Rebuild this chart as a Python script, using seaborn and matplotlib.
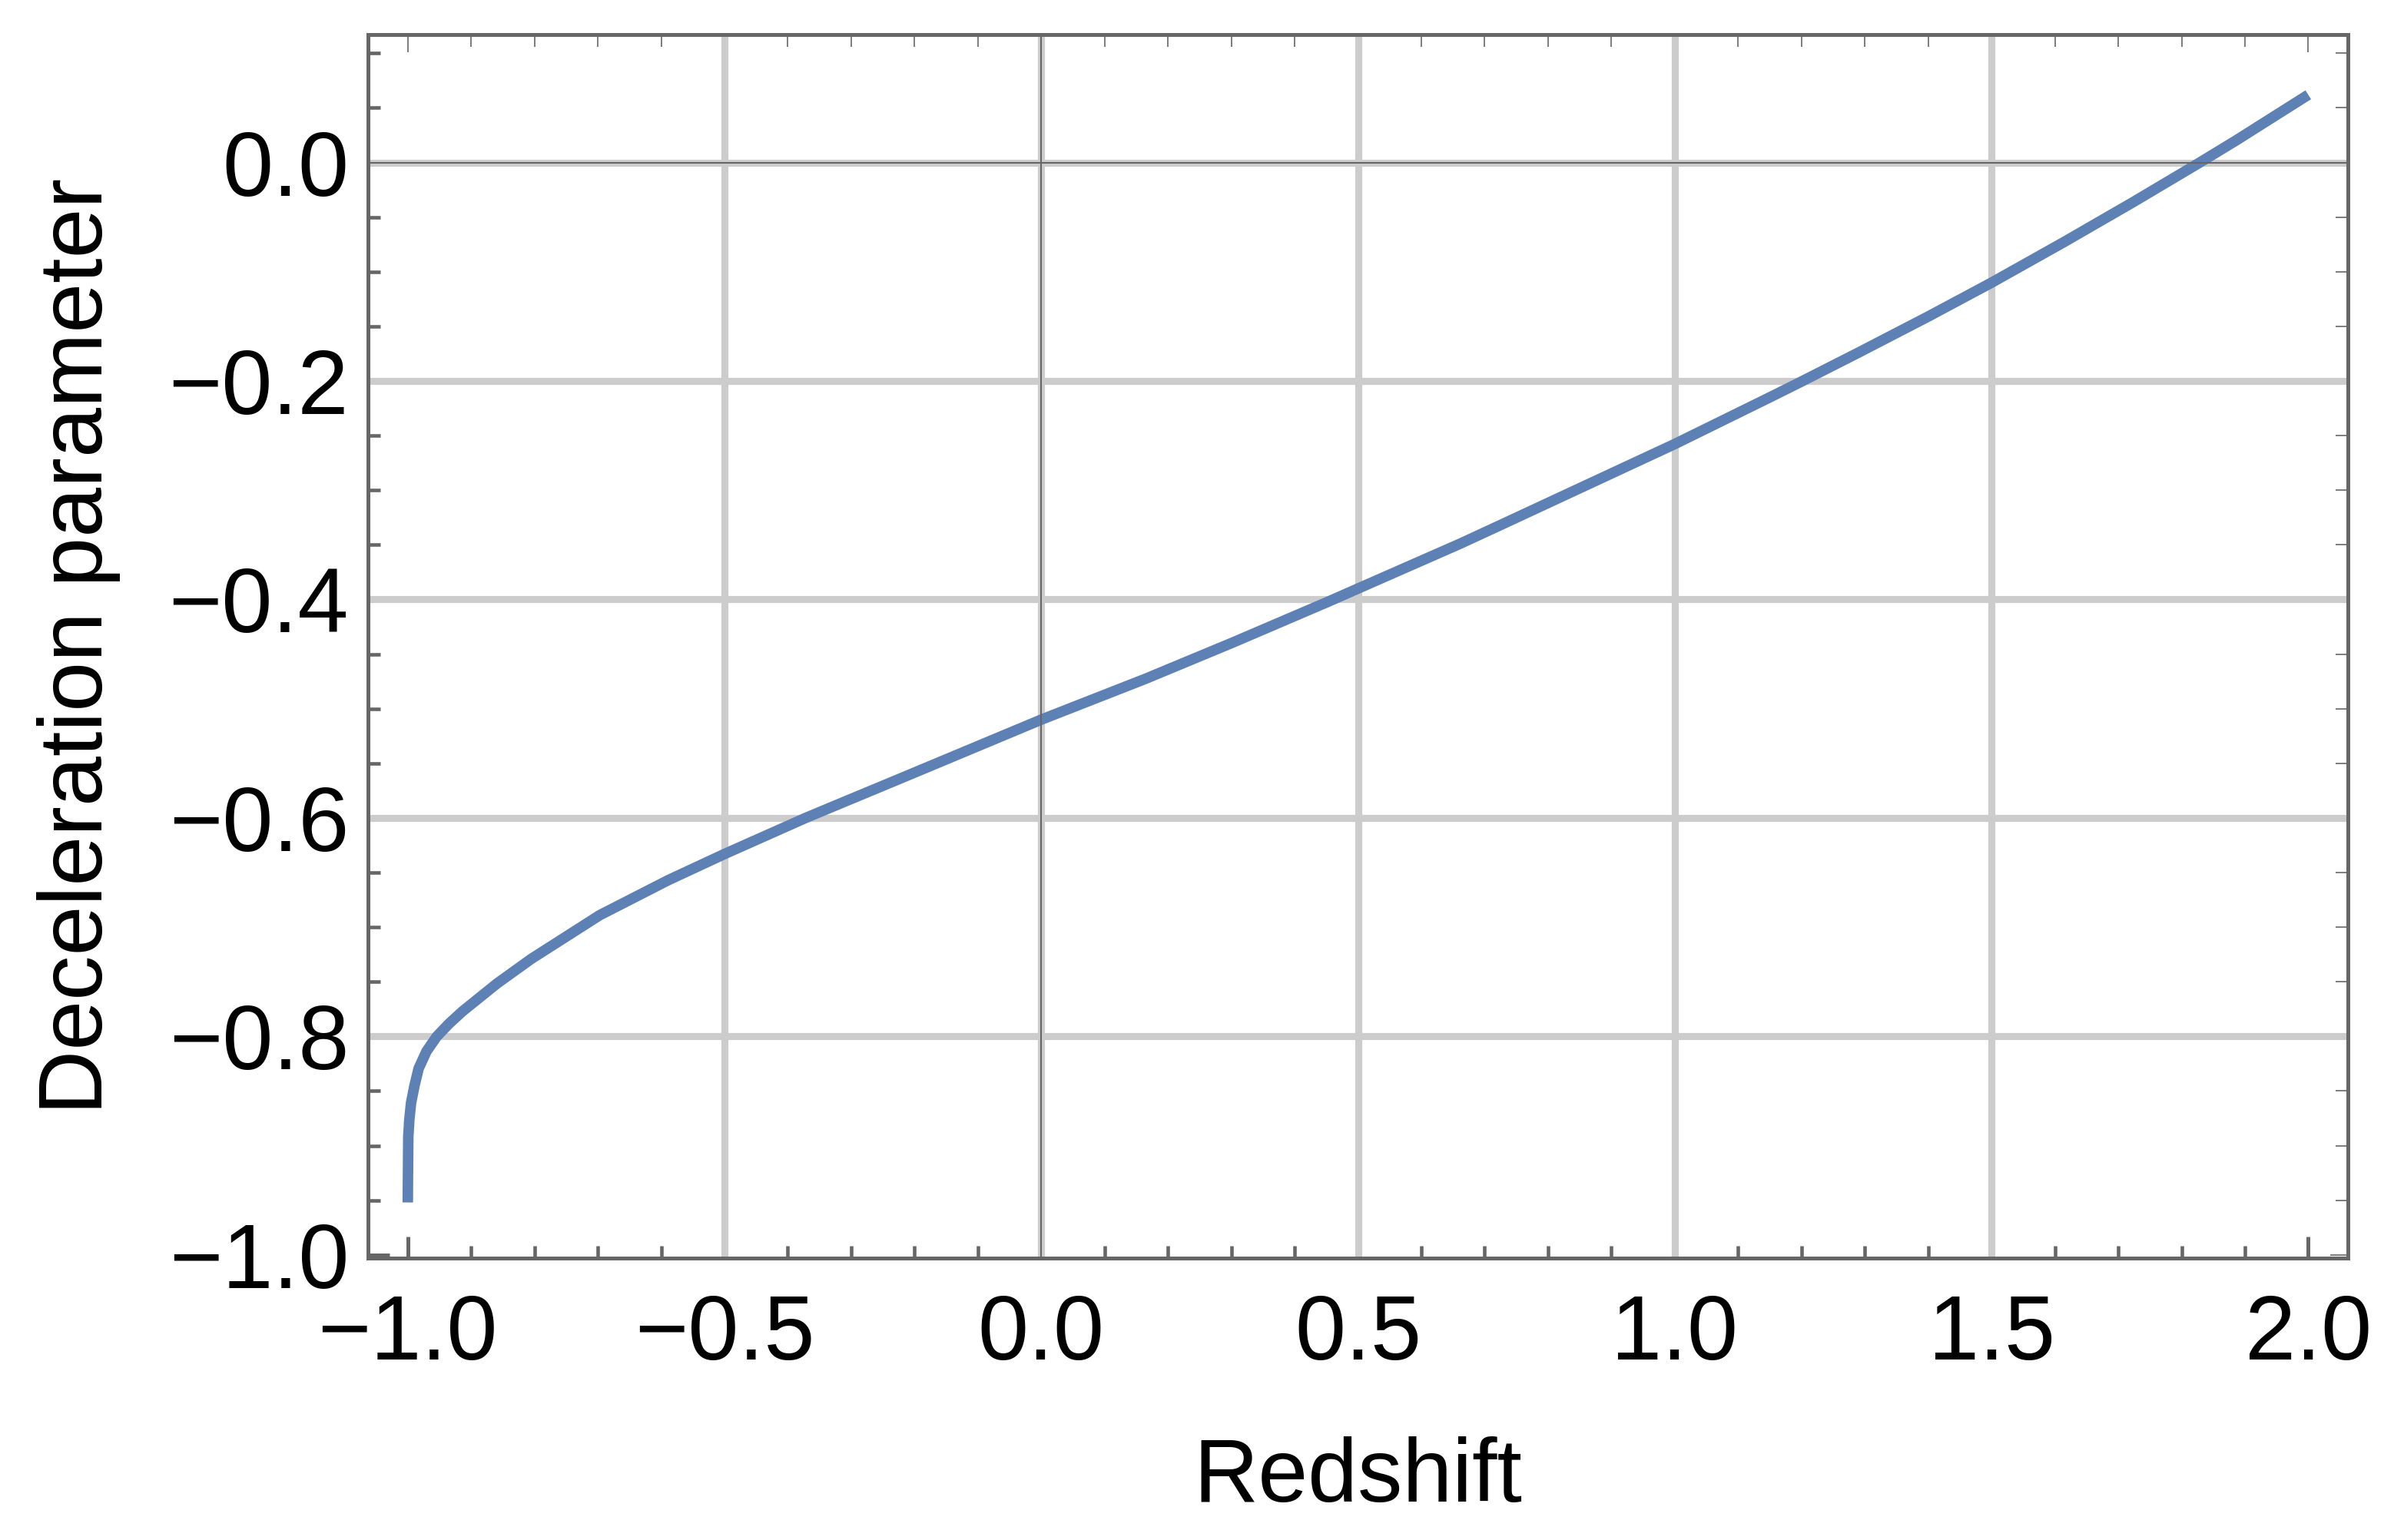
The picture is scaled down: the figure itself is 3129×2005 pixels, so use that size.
import numpy as np
import pandas as pd
import matplotlib
matplotlib.use("Agg")
import matplotlib.pyplot as plt
import seaborn as sns
from matplotlib.ticker import MultipleLocator, FuncFormatter

# values
redshift = [-1.0, -0.9992, -0.9976, -0.9948, -0.9894, -0.9829, -0.9705, -0.9543,
            -0.9352, -0.9136, -0.859, -0.805, -0.697, -0.589, -0.5, -0.372,
            -0.31, -0.227, 0.0, 0.165, 0.304, 0.453, 0.5, 0.661, 0.717,
            1.0, 1.153, 1.199, 1.291, 1.399, 1.5, 1.615, 1.724, 1.827, 1.886, 2.0]
decel = [-0.952, -0.892, -0.8765, -0.8608, -0.8451, -0.8294, -0.8137, -0.8001,
         -0.7885, -0.777, -0.7515, -0.729, -0.689, -0.657, -0.633, -0.600,
         -0.585, -0.565, -0.510, -0.4725, -0.439, -0.402, -0.390, -0.349, -0.334,
         -0.2577, -0.2141, -0.2008, -0.1737, -0.1413, -0.110, -0.0726, -0.0361, -0.0006, 0.0202, 0.062]

grid_x = [-0.5, 0.0, 0.5, 1.0, 1.5]
grid_y = [-0.8, -0.6, -0.4, -0.2, 0.0]

sns.set_style("ticks")
plt.rcParams['font.family'] = ['Liberation Sans', 'DejaVu Sans']

df = pd.DataFrame({"Redshift": redshift, "Deceleration parameter": decel})

fig = plt.figure(figsize=(3129 / 300, 2005 / 300), dpi=300)
ax = fig.add_axes([0.1531, 0.1830, 0.8235, 0.7946])

# light grid behind the curve
for gx in grid_x:
    ax.axvline(gx, color='#cccccc', lw=2.2, zorder=1)
for gy in grid_y:
    ax.axhline(gy, color='#cccccc', lw=2.2, zorder=1)

sns.lineplot(data=df, x="Redshift", y="Deceleration parameter", ax=ax,
             color='#5e81b5', lw=3.3, sort=False, estimator=None,
             solid_capstyle='butt', solid_joinstyle='round', zorder=2)

# axes through the origin, drawn over the curve
ax.axhline(0, color='#666666', lw=0.5, zorder=3)
ax.axvline(0, color='#666666', lw=0.5, zorder=3)

ax.set_xlim(-1.0627, 2.0623)
ax.set_ylim(-1.003, 0.1172)

ax.xaxis.set_major_locator(MultipleLocator(0.5))
ax.xaxis.set_minor_locator(MultipleLocator(0.1))
ax.yaxis.set_major_locator(MultipleLocator(0.2))
ax.yaxis.set_minor_locator(MultipleLocator(0.05))

def fmt(v, pos):
    s = "%.1f" % v
    if s == "-0.0":
        s = "0.0"
    return s.replace("-", "\u2212")

ax.xaxis.set_major_formatter(FuncFormatter(fmt))
ax.yaxis.set_major_formatter(FuncFormatter(fmt))

for side in ['left', 'right', 'top', 'bottom']:
    ax.spines[side].set_color('#666666')
    ax.spines[side].set_linewidth(1.2)
    ax.spines[side].set_zorder(4)

ax.tick_params(which='both', direction='in', top=True, right=True,
               color='#666666', labelcolor='black', labelsize=28.5)
ax.tick_params(which='major', length=6.7, width=1.2)
ax.tick_params(which='minor', length=3.8, width=1.1)
ax.tick_params(axis='x', pad=11)
ax.tick_params(axis='y', pad=6)

# thinner ticks on the top and right frame
for t in ax.xaxis.get_major_ticks() + ax.yaxis.get_major_ticks():
    t.tick2line.set_markeredgewidth(0.4)
    t.tick2line.set_markersize(5.5)
for t in ax.xaxis.get_minor_ticks() + ax.yaxis.get_minor_ticks():
    t.tick2line.set_markeredgewidth(0.4)
    t.tick2line.set_markersize(3.8)

ax.set_xlabel("Redshift", fontsize=28, labelpad=18, color='black')
ax.set_ylabel("Deceleration parameter", fontsize=28, labelpad=15, color='black')

fig.savefig("out.png", dpi=300)
